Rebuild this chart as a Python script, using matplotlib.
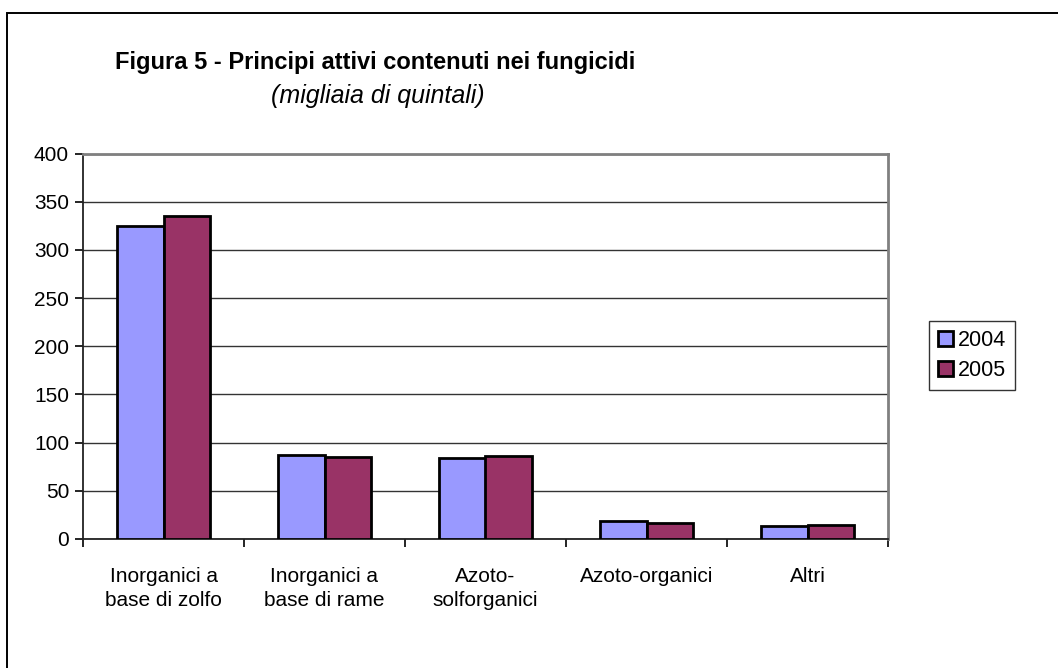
import numpy as np
import matplotlib
matplotlib.use('Agg')
import matplotlib.pyplot as plt
from matplotlib.patches import Rectangle

# Data (migliaia di quintali)
categories = ['Inorganici a\nbase di zolfo', 'Inorganici a\nbase di rame',
              'Azoto-\nsolforganici', 'Azoto-organici', 'Altri']
years = ['2004', '2005']
values_2004 = [325, 87, 84, 18.5, 14]
values_2005 = [335, 85, 86, 17, 15]
y_ticks = [0, 50, 100, 150, 200, 250, 300, 350, 400]

plt.rcParams['font.family'] = ['Liberation Sans', 'DejaVu Sans']
plt.rcParams['font.size'] = 15

W, H = 1058, 668
fig = plt.figure(figsize=(W / 100, H / 100), dpi=100)

# outer frame (only top/left edges visible in the reference)
fig.patches.append(Rectangle((7 / W, -0.2), 1.5, (H - 13) / H + 0.2,
                             transform=fig.transFigure, fill=False,
                             edgecolor='black', linewidth=1.4))

ax = fig.add_axes([83 / W, (H - 539) / H, (888 - 83) / W, (539 - 153.5) / H])

x = np.arange(len(categories))
bw = 0.289
ax.bar(x - bw / 2, values_2004, bw, color='#9999FF', edgecolor='black',
       linewidth=2.0, label=years[0], zorder=3)
ax.bar(x + bw / 2, values_2005, bw, color='#993366', edgecolor='black',
       linewidth=2.0, label=years[1], zorder=3)

ax.set_xlim(-0.5, len(categories) - 0.5)
ax.set_ylim(0, 400)
ax.set_yticks(y_ticks)
ax.yaxis.grid(True, color='#333333', linewidth=1.0, zorder=0)
ax.set_axisbelow(True)

# category labels centred, tick marks at category boundaries
ax.set_xticks(x)
ax.set_xticklabels(categories, linespacing=1.35)
ax.tick_params(axis='x', length=0, pad=20)
ax.set_xticks(np.arange(len(categories) + 1) - 0.5, minor=True)
ax.tick_params(axis='x', which='minor', length=6, width=1.2, direction='out')
ax.tick_params(axis='y', length=6, width=1.2, direction='out', pad=4)

for side in ['left', 'bottom']:
    ax.spines[side].set_color('#222222')
    ax.spines[side].set_linewidth(1.3)
for side in ['right', 'top']:
    ax.spines[side].set_color('#808080')
    ax.spines[side].set_linewidth(2.0)

leg = ax.legend(loc='upper left', bbox_to_anchor=(929 / W, (H - 321) / H),
                bbox_transform=fig.transFigure, frameon=True, fancybox=False,
                fontsize=15.5, handlelength=0.7, handleheight=0.7,
                handletextpad=0.2, labelspacing=0.42, borderpad=0.42,
                borderaxespad=0)
leg.get_frame().set_edgecolor('black')
leg.get_frame().set_linewidth(1.0)

fig.text(115 / W, (H - 63) / H, 'Figura 5 - Principi attivi contenuti nei fungicidi',
         fontsize=17, fontweight='bold', va='center', ha='left')
fig.text(378 / W, (H - 96) / H, '(migliaia di quintali)',
         fontsize=18, fontstyle='italic', va='center', ha='center')

fig.savefig('out.png', dpi=100)
